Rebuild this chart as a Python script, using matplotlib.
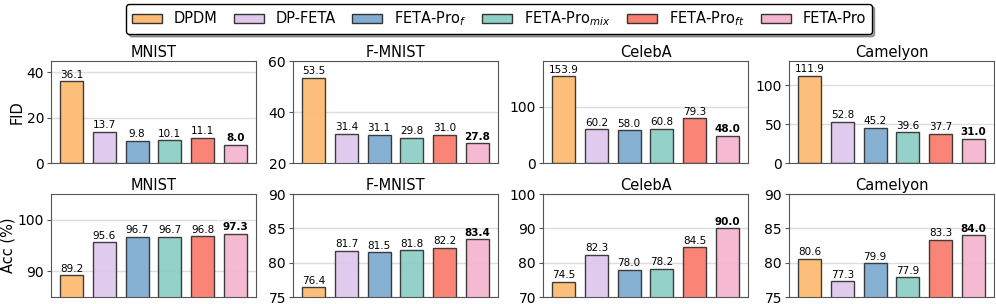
import matplotlib
matplotlib.use('Agg')
import matplotlib.pyplot as plt
from matplotlib.patches import Patch
import numpy as np

# methods / colours
methods = ['DPDM', 'DP-FETA', r'FETA-Pro$_{f}$', r'FETA-Pro$_{mix}$',
           r'FETA-Pro$_{ft}$', 'FETA-Pro']
colors = ['#FDBB73', '#DFC8EC', '#80ADD1', '#8ECFC6', '#FA7F6F', '#F5B5D0']

datasets = ['MNIST', 'F-MNIST', 'CelebA', 'Camelyon']

fid_mnist = [36.1, 13.7, 9.8, 10.1, 11.1, 8.0]
fid_fmnist = [53.5, 31.4, 31.1, 29.8, 31.0, 27.8]
fid_celeba = [153.9, 60.2, 58.0, 60.8, 79.3, 48.0]
fid_camelyon = [111.9, 52.8, 45.2, 39.6, 37.7, 31.0]

acc_mnist = [89.2, 95.6, 96.7, 96.7, 96.8, 97.3]
acc_fmnist = [76.4, 81.7, 81.5, 81.8, 82.2, 83.4]
acc_celeba = [74.5, 82.3, 78.0, 78.2, 84.5, 90.0]
acc_camelyon = [80.6, 77.3, 79.9, 77.9, 83.3, 84.0]

fid_rows = [fid_mnist, fid_fmnist, fid_celeba, fid_camelyon]
acc_rows = [acc_mnist, acc_fmnist, acc_celeba, acc_camelyon]

fid_lims = [(0, 45), (20, 60), (0, 181), (0, 131)]
fid_ticks = [[0, 20, 40], [20, 40, 60], [0, 100], [0, 50, 100]]
acc_lims = [(85, 105), (75, 90), (70, 100), (75, 90)]
acc_ticks = [[90, 100], [75, 80, 85, 90], [70, 80, 90, 100], [75, 80, 85, 90]]

fig = plt.figure(figsize=(9.96, 3.04), dpi=100)

lefts = [0.0512, 0.2942, 0.5452, 0.7922]
W = 0.2058
rows = [(0.4638, 0.3355), (0.0230, 0.3388)]

x = np.arange(len(methods))


def draw(ax, vals, lim, ticks, title):
    ax.set_axisbelow(True)
    ax.grid(axis='y', color='#dddddd', lw=1.0)
    ax.bar(x, vals, width=0.7, color=colors, edgecolor='#333333',
           linewidth=1.0, alpha=0.95)
    for i, v in enumerate(vals):
        ax.text(i, v + (lim[1] - lim[0]) * 0.015, f'{v:.1f}', ha='center',
                va='bottom', fontsize=7.5,
                fontweight='bold' if i == len(vals) - 1 else 'normal')
    ax.set_ylim(*lim)
    ax.set_yticks(ticks)
    ax.set_xticks([])
    ax.set_title(title, fontsize=10.5, pad=3)
    ax.tick_params(axis='y', labelsize=10, length=3, color='#555555', pad=2)
    for s in ax.spines.values():
        s.set_color('#555555')


for r, (data, lims, tks) in enumerate([(fid_rows, fid_lims, fid_ticks),
                                       (acc_rows, acc_lims, acc_ticks)]):
    b, h = rows[r]
    for c in range(4):
        ax = fig.add_axes([lefts[c], b, W, h])
        draw(ax, data[c], lims[c], tks[c], datasets[c])
        if c == 0:
            ax.set_ylabel('FID' if r == 0 else 'Acc (%)', fontsize=10.5,
                          labelpad=1.5)

handles = [Patch(facecolor=colors[i], edgecolor='#333333', label=methods[i])
           for i in range(len(methods))]
fig.legend(handles=handles, loc='upper center', bbox_to_anchor=(0.501, 0.988),
           ncol=6, fontsize=10.5, frameon=True, fancybox=True, shadow=True,
           edgecolor='black', handlelength=2.05, handleheight=0.6,
           columnspacing=1.1, borderpad=0.4, handletextpad=0.82,
           borderaxespad=0)

fig.savefig('out.png', dpi=100)
